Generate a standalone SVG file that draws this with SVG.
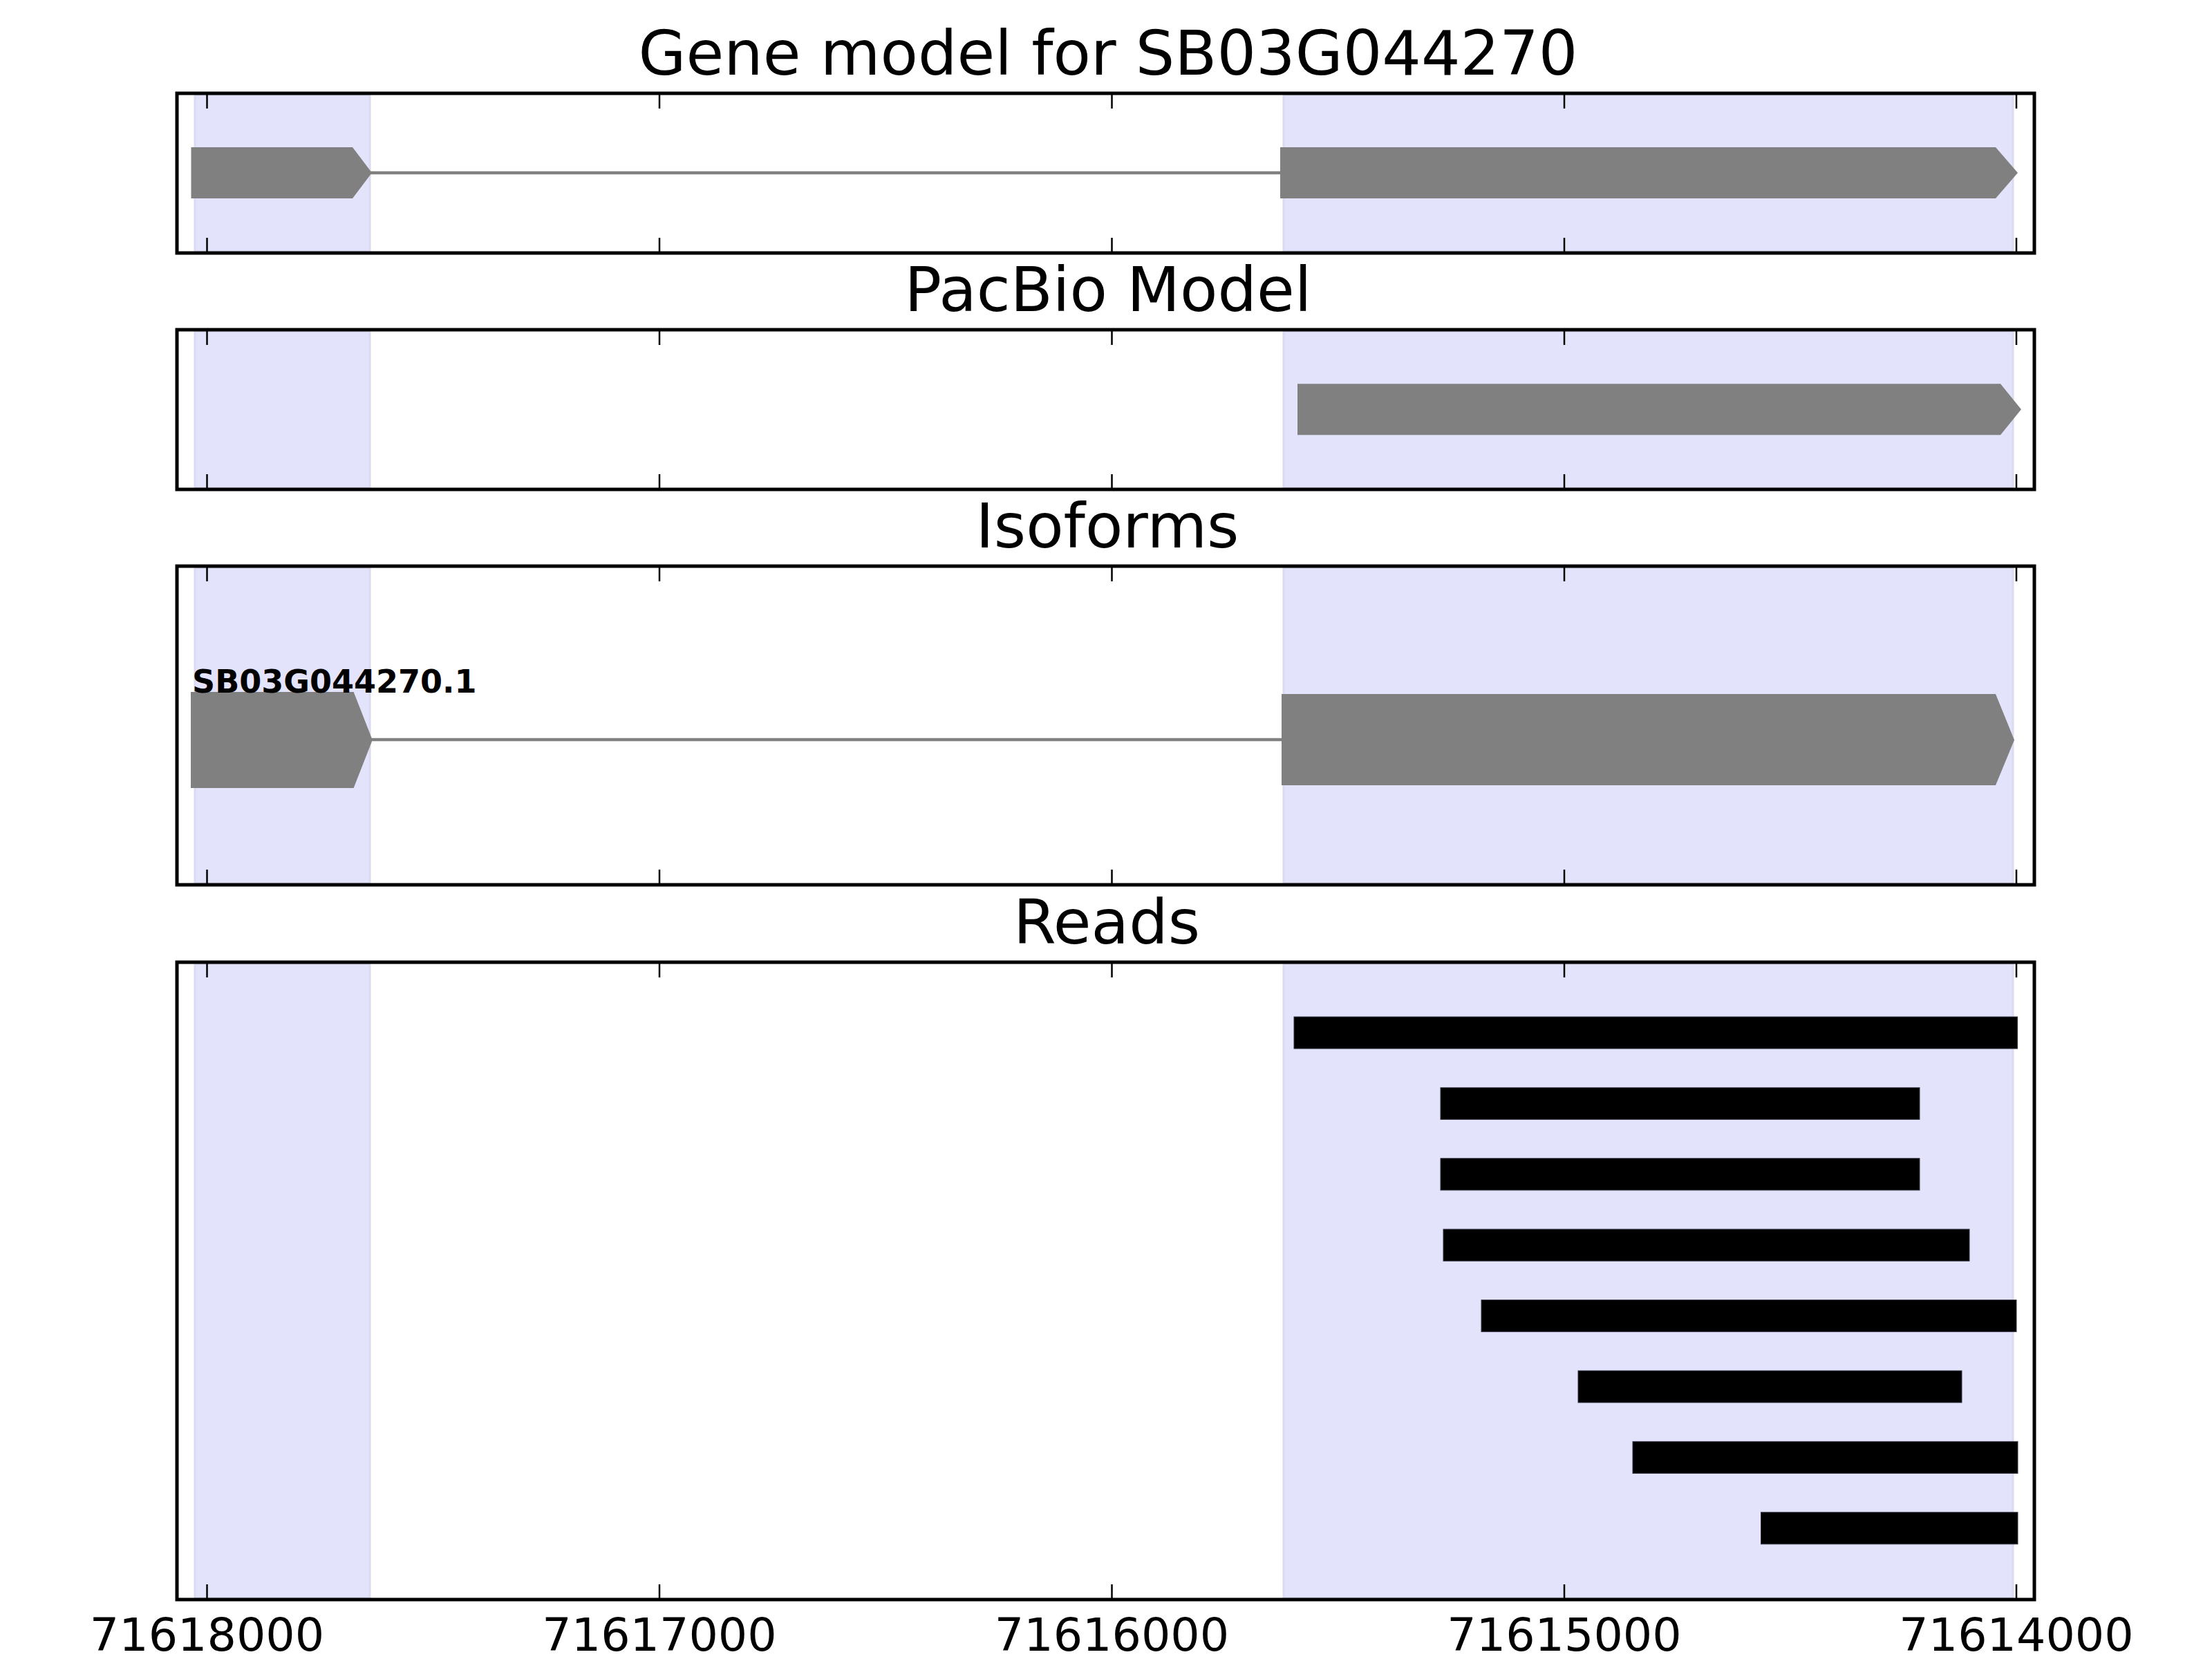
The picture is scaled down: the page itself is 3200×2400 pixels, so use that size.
<svg xmlns="http://www.w3.org/2000/svg" width="3200" height="2400" viewBox="0 0 3200 2400">
<style>
.frame{fill:none;stroke:#000;stroke-width:5}
.band{fill:#e3e3fc;stroke:#dadaf0;stroke-width:3}
.tick{stroke:#000;stroke-width:2.5}
.exon{fill:#808080}
.intron{stroke:#808080;stroke-width:4.5;fill:none}
.read{fill:#000;stroke:#333340;stroke-width:1}
.title{font-family:"DejaVu Sans","Liberation Sans",sans-serif;font-size:89px;text-anchor:middle;fill:#000}
.ticklabel{font-family:"DejaVu Sans","Liberation Sans",sans-serif;font-size:66.7px;text-anchor:middle;fill:#000}
.iso{font-family:"DejaVu Sans","Liberation Sans",sans-serif;font-size:46px;font-weight:bold;fill:#000}
</style>
<defs>
<g id="ticksTop">
<line class="tick" x1="299.5" y1="0" x2="299.5" y2="22"/>
<line class="tick" x1="954" y1="0" x2="954" y2="22"/>
<line class="tick" x1="1608.5" y1="0" x2="1608.5" y2="22"/>
<line class="tick" x1="2263" y1="0" x2="2263" y2="22"/>
<line class="tick" x1="2917" y1="0" x2="2917" y2="22"/>
</g>
<g id="ticksBottom">
<line class="tick" x1="299.5" y1="-22" x2="299.5" y2="0"/>
<line class="tick" x1="954" y1="-22" x2="954" y2="0"/>
<line class="tick" x1="1608.5" y1="-22" x2="1608.5" y2="0"/>
<line class="tick" x1="2263" y1="-22" x2="2263" y2="0"/>
<line class="tick" x1="2917" y1="-22" x2="2917" y2="0"/>
</g>
</defs>
<rect x="0" y="0" width="3200" height="2400" fill="#fff"/>

<g id="panel-gene-model">
<text class="title" x="1603" y="108">Gene model for SB03G044270</text>
<rect class="band" x="282" y="137.5" width="253" height="226"/>
<rect class="band" x="1857" y="137.5" width="1055" height="226"/>
<line class="intron" x1="536" y1="250" x2="1854" y2="250"/>
<polygon class="exon" points="276.5,213 510,213 538,250 510,287 276.5,287"/>
<polygon class="exon" points="1852,213 2887,213 2919,250 2887,287 1852,287"/>
<use href="#ticksTop" y="135"/>
<use href="#ticksBottom" y="366"/>
<rect class="frame" x="256" y="135" width="2687" height="231"/>
</g>

<g id="panel-pacbio">
<text class="title" x="1603" y="450">PacBio Model</text>
<rect class="band" x="282" y="479.5" width="253" height="226"/>
<rect class="band" x="1857" y="479.5" width="1055" height="226"/>
<polygon class="exon" points="1877,555.3 2894,555.3 2924,592.3 2894,629.3 1877,629.3"/>
<use href="#ticksTop" y="477"/>
<use href="#ticksBottom" y="708"/>
<rect class="frame" x="256" y="477" width="2687" height="231"/>
</g>

<g id="panel-isoforms">
<text class="title" x="1602" y="792">Isoforms</text>
<rect class="band" x="282" y="821.5" width="253" height="456"/>
<rect class="band" x="1857" y="821.5" width="1055" height="456"/>
<line class="intron" x1="536" y1="1070" x2="1856" y2="1070"/>
<polygon class="exon" points="276,1001 511.6,1001 538.8,1070.5 511.6,1140 276,1140"/>
<polygon class="exon" points="1854,1004 2887,1004 2914,1070.5 2887,1136 1854,1136"/>
<text class="iso" x="278" y="1002">SB03G044270.1</text>
<use href="#ticksTop" y="819"/>
<use href="#ticksBottom" y="1280"/>
<rect class="frame" x="256" y="819" width="2687" height="461"/>
</g>

<g id="panel-reads">
<text class="title" x="1601" y="1365">Reads</text>
<rect class="band" x="282" y="1394.5" width="253" height="917"/>
<rect class="band" x="1857" y="1394.5" width="1055" height="917"/>
<rect class="read" x="1872" y="1471" width="1046.6" height="46"/>
<rect class="read" x="2084" y="1573.4" width="693" height="46"/>
<rect class="read" x="2084" y="1675.8" width="693" height="46"/>
<rect class="read" x="2088" y="1778.2" width="761" height="46"/>
<rect class="read" x="2143" y="1880.6" width="774" height="46"/>
<rect class="read" x="2283" y="1983" width="555" height="46"/>
<rect class="read" x="2362" y="2085.4" width="557" height="46"/>
<rect class="read" x="2547.5" y="2187.8" width="371.5" height="46"/>
<use href="#ticksTop" y="1392"/>
<use href="#ticksBottom" y="2314"/>
<rect class="frame" x="256" y="1392" width="2687" height="922"/>
<text class="ticklabel" x="299.5" y="2388">71618000</text>
<text class="ticklabel" x="954" y="2388">71617000</text>
<text class="ticklabel" x="1608.5" y="2388">71616000</text>
<text class="ticklabel" x="2263" y="2388">71615000</text>
<text class="ticklabel" x="2917" y="2388">71614000</text>
</g>
<g id="connectors"/>
</svg>
